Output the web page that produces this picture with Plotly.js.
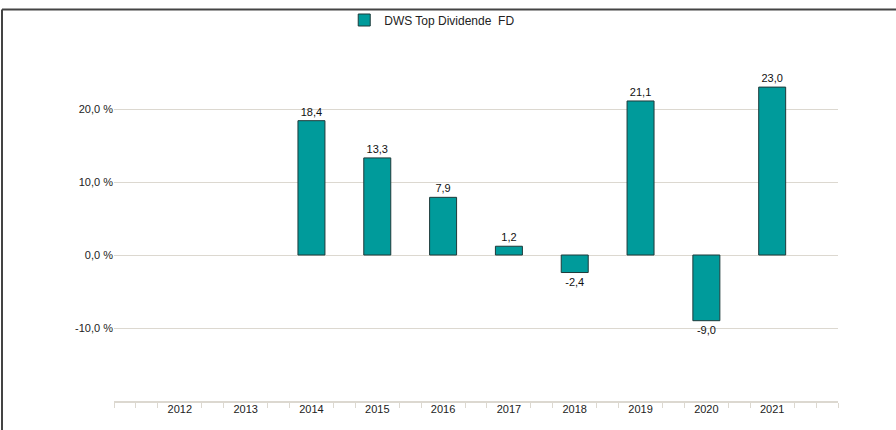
<!DOCTYPE html>
<html>
<head>
<meta charset="utf-8">
<script src="https://cdn.plot.ly/plotly-3.0.1.min.js"></script>
<style>
  html, body { margin: 0; padding: 0; background: #fff; }
  #chart { width: 896px; height: 430px; }
</style>
</head>
<body>
<div id="chart"></div>
<script>
const years = [2012, 2013, 2014, 2015, 2016, 2017, 2018, 2019, 2020, 2021];
const returns = [null, null, 18.4, 13.3, 7.9, 1.2, -2.4, 21.1, -9.0, 23.0];
const seriesName = "DWS Top Dividende  FD";
const yTickVals = [-10, 0, 10, 20, 30];
const yTickText = ["-10,0 %", "0,0 %", "10,0 %", "20,0 %", ""];

const fmt = v => (v === null ? "" : v.toFixed(1).replace(".", ","));

// minor ticks every third of a year, skipping the labelled year positions
const minorVals = [];
for (let i = 0; i <= 33; i++) {
  if (i % 3 !== 0) minorVals.push(2011 + i / 3);
}
minorVals.push(2011, 2022);

const grid = "#dcd8d0";
const font = "Liberation Sans, Arial, sans-serif";

const trace = {
  type: "bar",
  x: years,
  y: returns,
  name: seriesName,
  width: 0.41,
  marker: { color: "#009b9b", line: { color: "#1e3a3a", width: 1 } },
  text: returns.map(fmt),
  textposition: "outside",
  textfont: { family: font, size: 11, color: "#111" },
  cliponaxis: false,
  hoverinfo: "none",
  showlegend: true
};

const layout = {
  width: 896,
  height: 430,
  margin: { l: 114, r: 58, t: 36, b: 29, autoexpand: false },
  paper_bgcolor: "#fff",
  plot_bgcolor: "#fff",
  font: { family: font, size: 11, color: "#222" },
  showlegend: true,
  legend: {
    orientation: "h",
    x: 0.318, xanchor: "left",
    y: 1 + (36 - 20) / 365, yanchor: "middle",
    font: { family: font, size: 12, color: "#222" },
    bgcolor: "rgba(0,0,0,0)"
  },
  xaxis: {
    range: [2011, 2022],
    tickvals: years,
    ticktext: years.map(String),
    ticks: "",
    ticklabelstandoff: -3,
    showgrid: false,
    zeroline: false,
    showline: true,
    linecolor: grid,
    linewidth: 2,
    tickfont: { family: font, size: 11, color: "#222" },
    minor: { tickvals: minorVals, ticks: "outside", ticklen: 5, tickcolor: grid, tickwidth: 1, showgrid: false }
  },
  yaxis: {
    range: [-20, 30],
    tickvals: yTickVals,
    ticktext: yTickText,
    ticks: "",
    showgrid: true,
    gridcolor: grid,
    gridwidth: 1,
    zeroline: false,
    showline: false,
    tickfont: { family: font, size: 11, color: "#222" }
  },
  shapes: [
    { type: "line", xref: "paper", yref: "paper",
      x0: (2 - 114) / 724, x1: (896 - 114) / 724,
      y0: 1 + (36 - 9.5) / 365, y1: 1 + (36 - 9.5) / 365,
      line: { color: "#444", width: 2 } },
    { type: "line", xref: "paper", yref: "paper",
      x0: (2 - 114) / 724, x1: (2 - 114) / 724,
      y0: 1 + (36 - 9.5) / 365, y1: -29 / 365 - 0.01,
      line: { color: "#444", width: 2 } }
  ]
};

Plotly.newPlot("chart", [trace], layout, { displayModeBar: false, staticPlot: true });
</script>
</body>
</html>
